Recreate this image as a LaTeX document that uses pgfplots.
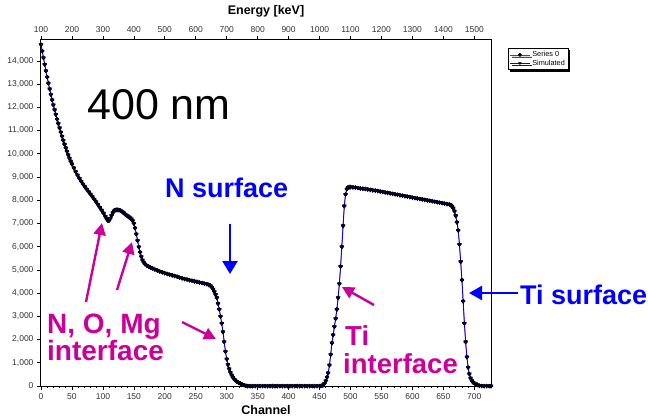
\documentclass[border=0pt]{standalone}
\usepackage{fontspec}
\setmainfont{Liberation Sans}
\usepackage{pgfplots}
\pgfplotsset{compat=1.18}
\usepackage{pgfplotstable}
\usetikzlibrary{arrows.meta,shadows}
\definecolor{mag}{RGB}{204,0,153}
\definecolor{tickgray}{RGB}{50,50,50}

\pgfplotstableread{
ch cnt
0 14700
2 14420
4 14130
6 13850
8 13570
10 13300
12 13040
14 12790
16 12550
18 12320
20 12100
22 11890
24 11690
26 11490
28 11300
30 11110
32 10930
34 10750
36 10580
38 10410
40 10250
42 10100
44 9950
46 9810
48 9680
50 9560
53 9390
56 9230
59 9080
62 8940
65 8810
68 8690
71 8580
74 8470
77 8360
80 8260
83 8150
86 8040
89 7930
92 7810
95 7690
98 7570
101 7440
104 7300
106 7200
108 7120
110 7130
112 7220
114 7350
116 7460
118 7540
120 7580
122 7590
124 7590
126 7580
128 7560
130 7530
132 7490
134 7450
136 7400
138 7360
140 7320
142 7280
144 7240
146 7190
148 7120
150 7000
152 6800
154 6540
156 6260
158 5990
160 5760
162 5570
164 5420
166 5320
168 5250
171 5190
174 5140
177 5100
180 5070
184 5020
188 4980
192 4930
196 4900
200 4860
204 4830
208 4800
212 4770
216 4740
220 4710
224 4670
228 4640
232 4610
236 4590
240 4560
244 4540
248 4510
252 4490
256 4460
260 4440
264 4410
268 4390
271 4360
274 4310
276 4250
278 4170
280 4060
282 3940
284 3800
286 3550
288 3300
290 3000
292 2700
294 2330
296 1900
298 1480
300 1160
302 920
304 740
306 590
308 470
310 370
313 270
316 200
319 150
322 110
325 70
328 40
331 15
334 0
338 0
342 0
346 0
350 0
354 0
358 0
362 0
366 0
370 0
374 0
378 0
382 0
386 0
390 0
394 0
398 0
402 0
406 0
410 0
414 0
418 0
422 0
426 0
430 0
434 0
438 0
442 0
446 0
450 0
452 5
454 20
456 45
458 110
460 220
462 380
464 560
466 900
468 1350
470 1850
472 2200
474 2550
476 2900
478 3300
480 3800
482 4400
484 5150
486 6000
488 6900
490 7750
492 8250
494 8480
496 8550
498 8570
500 8570
504 8560
508 8550
512 8530
516 8510
520 8500
524 8490
528 8470
532 8450
536 8430
540 8420
544 8400
548 8380
552 8360
556 8340
560 8320
564 8300
568 8280
572 8260
576 8240
580 8220
584 8200
588 8180
592 8160
596 8140
600 8120
604 8100
608 8080
612 8060
616 8040
620 8020
624 8000
628 7980
632 7960
636 7940
640 7920
644 7900
648 7880
652 7860
656 7840
660 7820
662 7790
664 7740
666 7660
668 7530
670 7330
672 7050
674 6700
676 6100
678 5350
680 4560
682 3650
684 2700
686 1900
688 1250
690 800
692 520
694 340
696 230
698 160
700 120
702 85
705 50
708 20
712 5
716 0
720 0
724 0
727 0
}\spec

\begin{document}
\begin{tikzpicture}
\path[use as bounding box] (-41pt,-32pt) rectangle (607pt,386pt);
\begin{axis}[
  at={(0,0)}, anchor=south west,
  scale only axis, width=450pt, height=346pt,
  xmin=0, xmax=727, ymin=0, ymax=14900,
  scaled y ticks=false, scaled x ticks=false,
  tick align=outside,
  xtick pos=lower, ytick pos=left,
  xtick={0,50,...,700}, minor x tick num=4,
  ytick={0,1000,...,14000},
  major tick length=4pt, minor tick length=2pt,
  axis line style={line width=1pt},
  every tick/.style={black, line width=0.6pt},
  tick label style={font=\fontsize{8.5}{9}\selectfont, text=tickgray},
  /pgf/number format/assume math mode=true,
  /pgf/number format/1000 sep={,},
  xlabel={Channel},
  xlabel style={font=\bfseries\fontsize{12.5}{13}\selectfont, at={(axis description cs:0.5,0)}, anchor=center, yshift=-24pt},
  legend style={at={(1.0378,0.9769)}, anchor=north west, font=\fontsize{7.3}{8}\selectfont,
    draw=black, line width=0.5pt, inner sep=1.2pt, row sep=-2.5pt,
    drop shadow={shadow xshift=2pt, shadow yshift=-2pt, fill=black, opacity=1}},
  legend cell align=left,
  legend image code/.code={\draw[#1, mark size=1.6pt, mark repeat=2, mark phase=2] plot coordinates {(0pt,0pt) (10pt,0pt) (20pt,0pt)};},
]
\addplot[red, line width=0.6pt, mark=*, mark size=1.85pt, mark options={fill=black, draw=black}] table[x=ch, y=cnt] {\spec};
\addlegendentry{Series 0}
\addplot[blue, line width=0.9pt, mark=triangle*, mark size=2.3pt, mark options={rotate=180, fill=black!75!blue, draw=black, line width=0.3pt}] table[x=ch, y=cnt] {\spec};
\addlegendentry{Simulated}
\end{axis}
\begin{axis}[
  at={(0,0)}, anchor=south west,
  scale only axis, width=450pt, height=346pt,
  xmin=100, xmax=1554, ymin=0, ymax=1,
  scaled x ticks=false,
  axis x line*=top, axis y line=none,
  tick align=outside,
  xtick={100,200,...,1500},
  major tick length=4pt,
  axis line style={line width=1pt},
  every tick/.style={black, line width=0.6pt},
  tick label style={font=\fontsize{8.5}{9}\selectfont, text=tickgray},
  /pgf/number format/assume math mode=true,
  /pgf/number format/1000 sep={},
  xlabel={Energy [keV]},
  xlabel style={font=\bfseries\fontsize{12.5}{13}\selectfont, at={(axis description cs:0.5,1)}, anchor=center, yshift=29pt},
]
\end{axis}
\begin{scope}[shift={(-41pt,386pt)}, x=1pt, y=-1pt]
\node[font=\fontsize{43}{43}\selectfont, anchor=base west, inner sep=0pt] at (87,120) {400 nm};
\node[font=\bfseries\fontsize{27}{27}\selectfont, text=blue, anchor=base west, inner sep=0pt] at (165,198) {N surface};
\draw[blue, line width=2.6pt, -{Triangle[length=13pt,width=15pt]}] (230,224) -- (230,274);
\node[font=\bfseries\fontsize{28}{28}\selectfont, text=mag, anchor=base west, inner sep=0pt] at (47,333) {N, O, Mg};
\node[font=\bfseries\fontsize{28}{28}\selectfont, text=mag, anchor=base west, inner sep=0pt] at (47,360) {interface};
\draw[mag, line width=2.4pt, -{Triangle[length=12pt,width=12pt]}] (86,302) -- (102,223);
\draw[mag, line width=2.4pt, -{Triangle[length=12pt,width=12pt]}] (117,290) -- (132,242);
\draw[mag, line width=2.4pt, -{Triangle[length=12pt,width=12pt]}] (182,322) -- (216,339);
\node[font=\bfseries\fontsize{27.5}{28}\selectfont, text=mag, anchor=base west, inner sep=0pt] at (345,345) {Ti};
\node[font=\bfseries\fontsize{27.5}{28}\selectfont, text=mag, anchor=base west, inner sep=0pt] at (343,373) {interface};
\draw[mag, line width=2.4pt, -{Triangle[length=12pt,width=12pt]}] (374,305) -- (342,287);
\node[font=\bfseries\fontsize{27}{27}\selectfont, text=blue, anchor=base west, inner sep=0pt] at (520,304) {Ti surface};
\draw[blue, line width=2.4pt, -{Triangle[length=13pt,width=14pt]}] (518,293) -- (469,293);
\end{scope}
\end{tikzpicture}
\end{document}
